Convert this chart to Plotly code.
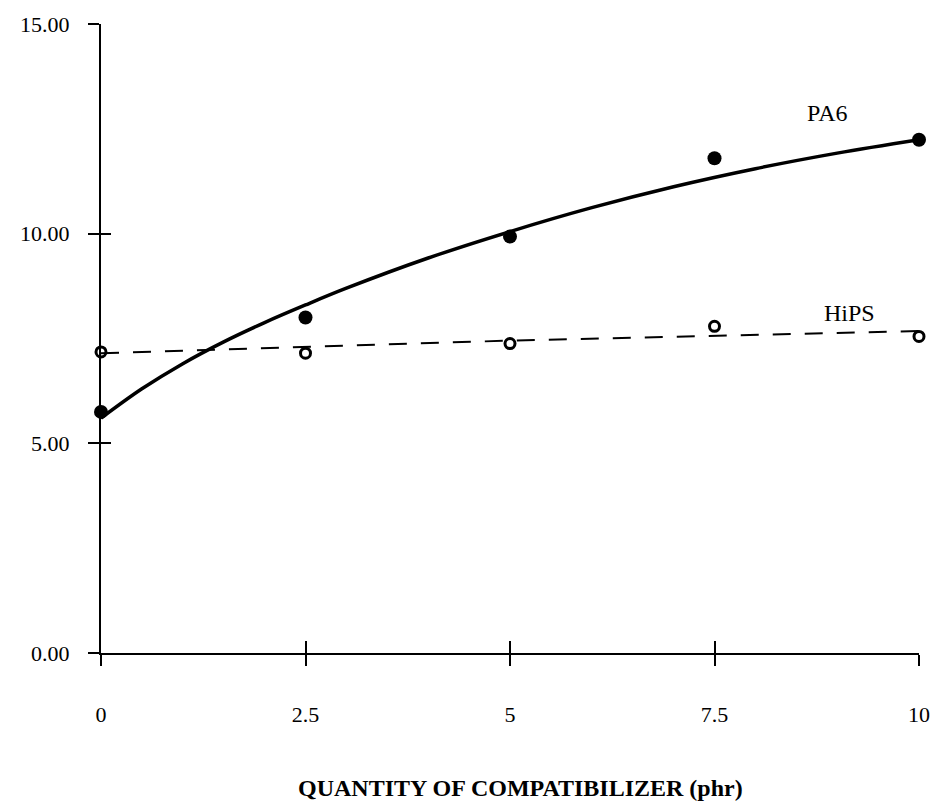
import plotly.graph_objects as go

# Measured points
x_pts = [0, 2.5, 5, 7.5, 10]
pa6_pts = [5.75, 8.0, 9.93, 11.8, 12.24]
hips_pts = [7.18, 7.15, 7.38, 7.79, 7.55]

# Fitted curves
pa6_fit_x = [0, 0.5, 1, 1.5, 2, 2.5, 3, 4, 5, 6, 7, 8, 9, 10]
pa6_fit_y = [5.6, 6.3, 6.9, 7.42, 7.88, 8.3, 8.7, 9.42, 10.05, 10.62, 11.12, 11.55, 11.92, 12.24]
hips_fit_x = [0, 5, 10]
hips_fit_y = [7.15, 7.45, 7.68]

x_ticks = [0, 2.5, 5, 7.5, 10]
x_ticklabels = ["0", "2.5", "5", "7.5", "10"]
y_ticks = [0, 5, 10, 15]
y_ticklabels = ["0.00", "5.00", "10.00", "15.00"]

FONT = "Liberation Serif"

fig = go.Figure()
fig.add_trace(go.Scatter(x=pa6_fit_x, y=pa6_fit_y, mode="lines", line=dict(color="black", width=3.5, shape="spline"),
                         showlegend=False, hoverinfo="skip", cliponaxis=False))
fig.add_trace(go.Scatter(x=hips_fit_x, y=hips_fit_y, mode="lines", line=dict(color="black", width=2, dash="18px,14px"),
                         showlegend=False, hoverinfo="skip", cliponaxis=False))
fig.add_trace(go.Scatter(x=x_pts, y=pa6_pts, mode="markers", marker=dict(symbol="circle", size=14, color="black"),
                         name="PA6", showlegend=False, cliponaxis=False))
fig.add_trace(go.Scatter(x=x_pts, y=hips_pts, mode="markers",
                         marker=dict(symbol="circle-open", size=10, color="black", line=dict(width=3, color="black")),
                         name="HiPS", showlegend=False, cliponaxis=False))

axis_common = dict(showgrid=False, zeroline=False, showline=True, linecolor="black", linewidth=2,
                   ticks="outside", ticklen=11, tickwidth=2, tickcolor="black",
                   tickfont=dict(family=FONT, size=22, color="black"))

fig.update_layout(
    width=942, height=803,
    margin=dict(l=101, r=14, t=23, b=150),
    paper_bgcolor="white", plot_bgcolor="white",
    xaxis=dict(range=[0, 10], tickvals=x_ticks, ticktext=x_ticklabels, ticklabelstandoff=30, **axis_common),
    yaxis=dict(range=[0, 15], tickvals=y_ticks, ticktext=y_ticklabels, ticklabelstandoff=14, **axis_common),
    xaxis2=dict(range=[0, 10], overlaying="x", tickvals=x_ticks, showticklabels=False, showgrid=False, zeroline=False,
                showline=False, ticks="inside", ticklen=12, tickwidth=2, tickcolor="black", side="bottom"),
    yaxis2=dict(range=[0, 15], overlaying="y", tickvals=y_ticks, showticklabels=False, showgrid=False, zeroline=False,
                showline=False, ticks="inside", ticklen=10, tickwidth=2, tickcolor="black", side="left"),
    showlegend=False,
)
# dummy trace to activate the overlay axes
fig.add_trace(go.Scatter(x=[None], y=[None], xaxis="x2", yaxis="y2", showlegend=False, hoverinfo="skip"))

fig.add_annotation(x=8.88, y=12.88, xref="x", yref="y", text="PA6", showarrow=False,
                   font=dict(family=FONT, size=24, color="black"))
fig.add_annotation(x=9.15, y=8.12, xref="x", yref="y", text="HiPS", showarrow=False,
                   font=dict(family=FONT, size=24, color="black"))
fig.add_annotation(x=0.513, y=-0.214, xref="paper", yref="paper", yanchor="middle",
                   text="<b>QUANTITY OF COMPATIBILIZER (phr)</b>", showarrow=False,
                   font=dict(family=FONT, size=24, color="black"))

fig.write_html("out.html")
